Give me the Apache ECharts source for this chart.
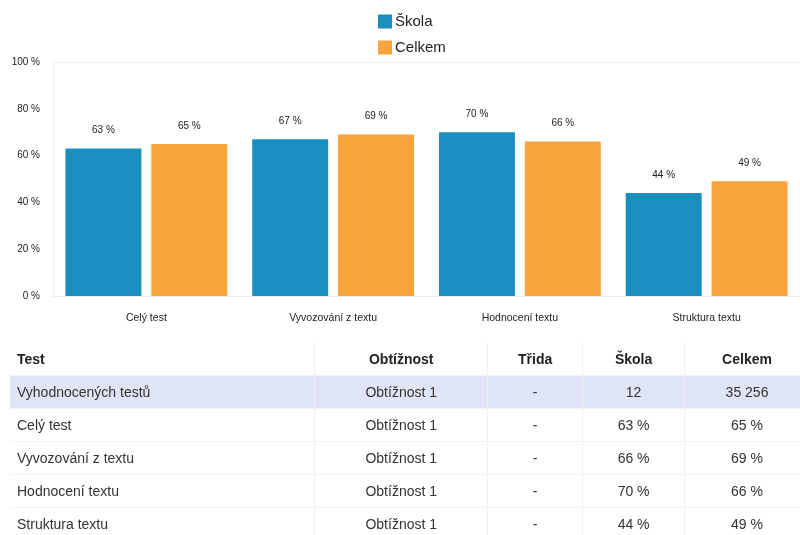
<!DOCTYPE html>
<html>
<head>
<meta charset="utf-8">
<script src="https://cdn.jsdelivr.net/npm/echarts@6/dist/echarts.min.js"></script>
<style>
  html, body { margin: 0; padding: 0; background: #fff; overflow: hidden; }
  #wrap { position: relative; width: 800px; height: 535px; overflow: hidden; }
  #chart { position: absolute; left: 0; top: 0; width: 800px; height: 535px; }
  #tbl {
    position: absolute; left: 10px; top: 343px; width: 800px;
    border-collapse: collapse; font-family: "Liberation Sans", Arial, sans-serif;
    font-size: 14px; color: #333;
  }
  #tbl th, #tbl td { height: 32px; padding: 0; border-right: 1px solid #f0f0f0; border-bottom: 1px solid #f3f3f3; text-align: center; }
  #tbl th { font-weight: bold; color: #222; }
  #tbl th:first-child, #tbl td:first-child { text-align: left; padding-left: 7px; }
  #tbl tr.hl td { background: #dfe4f6; }
</style>
</head>
<body>
<div id="wrap">
  <div id="chart"></div>
  <table id="tbl"></table>
</div>
<script>
// kategorie a hodnoty grafu
const categories = ['Celý test', 'Vyvozování z textu', 'Hodnocení textu', 'Struktura textu'];
const skola = [63, 67, 70, 44];
const celkem = [65, 69, 66, 49];

// tabulka
const headers = ['Test', 'Obtížnost', 'Třida', 'Škola', 'Celkem'];
const colWidths = [305, 173, 95, 102, 125];
const rowTests = ['Vyhodnocených testů', 'Celý test', 'Vyvozování z textu', 'Hodnocení textu', 'Struktura textu'];
const rowLevel = ['Obtížnost 1', 'Obtížnost 1', 'Obtížnost 1', 'Obtížnost 1', 'Obtížnost 1'];
const rowTrida = ['-', '-', '-', '-', '-'];
const rowSkola = ['12', '63 %', '66 %', '70 %', '44 %'];
const rowCelkem = ['35 256', '65 %', '69 %', '66 %', '49 %'];

const tbl = document.getElementById('tbl');
let html = '<colgroup>' + colWidths.map(w => '<col style="width:' + w + 'px">').join('') + '</colgroup>';
html += '<tr>' + headers.map(h => '<th>' + h + '</th>').join('') + '</tr>';
rowTests.forEach((t, i) => {
  html += '<tr' + (i === 0 ? ' class="hl"' : '') + '><td>' + t + '</td><td>' + rowLevel[i] + '</td><td>' +
    rowTrida[i] + '</td><td>' + rowSkola[i] + '</td><td>' + rowCelkem[i] + '</td></tr>';
});
tbl.innerHTML = html;

const chart = echarts.init(document.getElementById('chart'));
const font = '"Liberation Sans", Arial, sans-serif';

const barLabel = {
  show: true,
  position: 'top',
  distance: 13,
  formatter: '{c} %',
  fontSize: 10,
  fontFamily: font,
  color: '#222'
};

chart.setOption({
  backgroundColor: '#fff',
  animation: false,
  textStyle: { fontFamily: font },
  legend: {
    orient: 'vertical',
    left: 373,
    top: 9,
    itemWidth: 14,
    itemHeight: 14,
    itemGap: 11,
    icon: 'rect',
    textStyle: { fontSize: 15, color: '#222', fontFamily: font, padding: [0, 0, 0, -2] },
    data: ['Škola', 'Celkem']
  },
  grid: { left: 53, right: 0, top: 62, height: 234, containLabel: false },
  xAxis: {
    type: 'category',
    data: categories,
    axisLine: { lineStyle: { color: '#ececec' } },
    axisTick: { show: false },
    axisLabel: { fontSize: 10.5, color: '#222', margin: 17 }
  },
  yAxis: {
    type: 'value',
    min: 0,
    max: 100,
    interval: 20,
    axisLine: { show: true, lineStyle: { color: '#f0f0f0' } },
    axisTick: { show: false },
    axisLabel: { formatter: '{value} %', fontSize: 10, color: '#222', margin: 13 },
    splitLine: {
      show: true,
      lineStyle: { color: ['transparent', 'transparent', 'transparent', 'transparent', 'transparent', '#eeeeee'] }
    }
  },
  series: [
    {
      name: 'Škola',
      type: 'bar',
      data: skola,
      barWidth: 76,
      barGap: '13%',
      itemStyle: { color: '#1a8fbf' },
      label: barLabel
    },
    {
      name: 'Celkem',
      type: 'bar',
      data: celkem,
      barWidth: 76,
      itemStyle: { color: '#f9a53b' },
      label: barLabel
    }
  ]
});
</script>
</body>
</html>
